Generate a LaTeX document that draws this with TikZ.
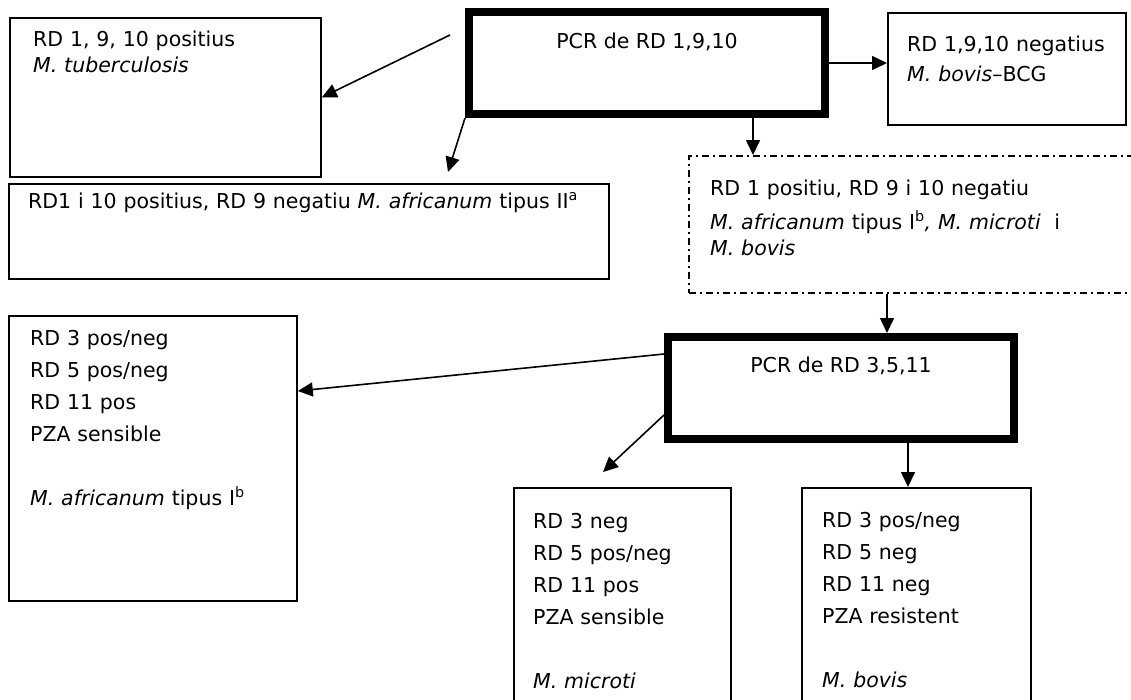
\documentclass[tikz,border=0pt]{standalone}
\usepackage{fontspec}
\setmainfont{DejaVu Sans}
\usetikzlibrary{arrows.meta, positioning, calc}
\tikzset{
  thinbox/.style={rectangle, draw=black, line width=1.8pt, anchor=north west, inner sep=0pt},
  pcrbox/.style={rectangle, draw=black, line width=8pt, anchor=north west, inner sep=0pt},
  dashbox/.style={rectangle, draw=black, line width=1.6pt, anchor=north west, inner sep=0pt,
              dash pattern=on 7pt off 4pt on 2pt off 4pt},
  boxtext/.style={anchor=base west, inner sep=0pt, align=left, text width=#1,
              font=\fontsize{20.5}{32}\selectfont},
  boxtext/.default=280pt,
  tighttext/.style={boxtext=#1, font=\fontsize{20.5}{26}\selectfont},
  tighttext/.default=440pt,
  pcrtext/.style={anchor=base, inner sep=0pt, font=\fontsize{20.5}{26}\selectfont},
  arrow/.style={-{Triangle[length=15pt, width=14pt]}, line width=1.6pt},
}

\begin{document}
\begin{tikzpicture}[x=1pt, y=-1pt]
  \useasboundingbox (0,0) rectangle (1131,699);
  \fill[white] (0,0) rectangle (1131,699);
  \clip (0,0) rectangle (1131,699);

  \node[pcrbox, minimum width=356pt, minimum height=102pt] (pcra) at (465,8) {};
  \node[pcrtext] (pcratext) at (647,48) {PCR de RD 1,9,10};

  \node[thinbox, minimum width=311pt, minimum height=159pt] (tbbox) at (9,17) {};
  \node[tighttext] (tbtext) at (33,46) {RD 1, 9, 10 positius\\\textit{M. tuberculosis}};

  \node[thinbox, minimum width=238pt, minimum height=112pt] (negbox) at (887,12) {};
  \node[tighttext, font=\fontsize{20.5}{30}\selectfont] (negtext) at (907,51)
        {RD 1,9,10 negatius\\\textit{M. bovis}--BCG};

  \node[thinbox, minimum width=600pt, minimum height=95pt] (afbox) at (8,183) {};
  \node[tighttext=580pt] (aftext) at (28,208)
        {RD1 i 10 positius, RD 9 negatiu \textit{M. africanum} tipus II\textsuperscript{a}};

  \node[dashbox, minimum width=460pt, minimum height=137pt] (dashbox) at (688,155) {};
  \node[tighttext] (dashtext) at (710,195)
        {RD 1 positiu, RD 9 i 10 negatiu\\[8pt]
         \textit{M. africanum} tipus I\textsuperscript{b}\textit{, M. microti}~ i\\
         \textit{M. bovis}};

  \node[pcrbox, minimum width=346pt, minimum height=102pt] (pcrb) at (664,333) {};
  \node[pcrtext] (pcrbtext) at (841,372) {PCR de RD 3,5,11};

  \node[thinbox, minimum width=288pt, minimum height=285pt] (tibbox) at (8,315) {};
  \node[boxtext] (tibtext) at (30,345)
        {RD 3 pos/neg\\RD 5 pos/neg\\RD 11 pos\\PZA sensible\\[32pt]
         \textit{M. africanum} tipus I\textsuperscript{b}};

  \node[thinbox, minimum width=217pt, minimum height=230pt] (micbox) at (513,487) {};
  \node[boxtext=200pt] (mictext) at (533,528)
        {RD 3 neg\\RD 5 pos/neg\\RD 11 pos\\PZA sensible\\[32pt]\textit{M. microti}};

  \node[thinbox, minimum width=229pt, minimum height=230pt] (bovbox) at (801,487) {};
  \node[boxtext=200pt] (bovtext) at (822,527)
        {RD 3 pos/neg\\RD 5 neg\\RD 11 neg\\PZA resistent\\[32pt]\textit{M. bovis}};

  \coordinate (d1) at ([xshift=106pt]pcra.south);
  \coordinate (d2) at ([xshift=46pt]pcrb.north);
  \coordinate (d3) at ([xshift=67pt]pcrb.south);

  \draw[arrow] ([xshift=-15pt, yshift=-27pt]pcra.north west) -- (tbbox.east);
  \draw[arrow] (pcra.south west) -- ([xshift=440pt, yshift=11pt]afbox.north west);
  \draw[arrow] (pcra.east) -- (pcra.east -| negbox.west);
  \draw[arrow] (d1) -- (d1 |- dashbox.north);
  \draw[arrow] (d2 |- dashbox.south) -- (d2);
  \draw[arrow] ([yshift=-21pt]pcrb.north west) -- ([yshift=-76pt]tibbox.north east);
  \draw[arrow] ([yshift=-82pt]pcrb.north west) -- ([xshift=90pt, yshift=15pt]micbox.north west);
  \draw[arrow] (d3) -- (d3 |- bovbox.north);
\end{tikzpicture}
\end{document}
